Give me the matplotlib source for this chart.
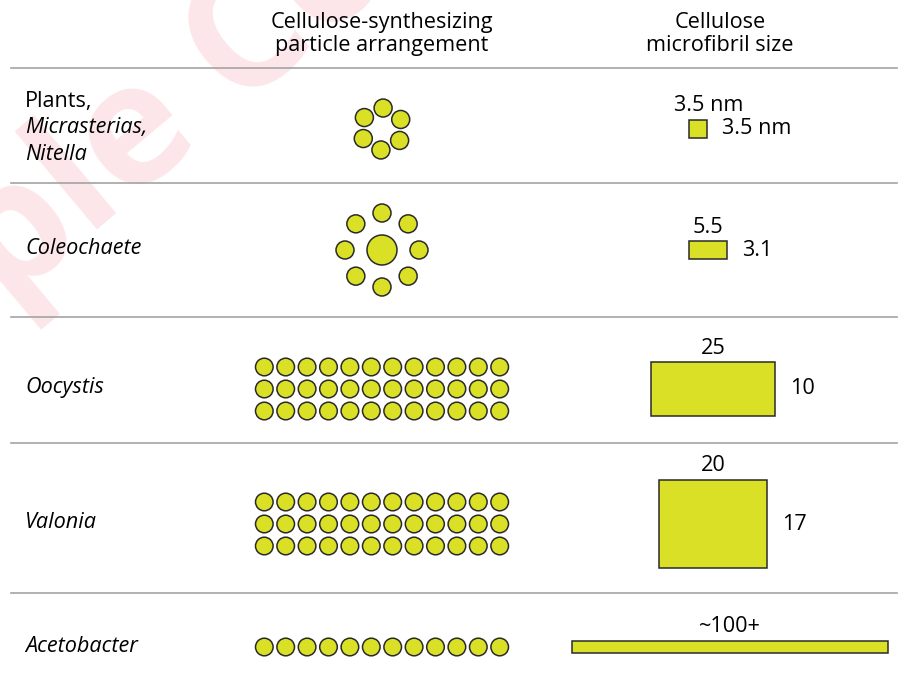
import numpy as np
import matplotlib
matplotlib.use("Agg")
import matplotlib.pyplot as plt
from matplotlib.patches import Circle, Rectangle

# ---- data ----
col_headers = ["Cellulose-synthesizing\nparticle arrangement", "Cellulose\nmicrofibril size"]
row_labels = [["Plants,", "Micrasterias,", "Nitella"], ["Coleochaete"], ["Oocystis"], ["Valonia"], ["Acetobacter"]]
row_italic = [[False, True, True], [True], [True], [True], [True]]

ring_particles = [6, 8, 0, 0, 0]
center_particle = [False, True, False, False, False]
grid_rows = [0, 0, 3, 3, 1]
grid_cols = [0, 0, 12, 12, 12]

width_labels = ["3.5 nm", "5.5", "25", "20", "~100+"]
height_labels = ["3.5 nm", "3.1", "10", "17", ""]
# microfibril sizes as drawn in the figure (nm)
fibril_width = [3.5, 6.9, 23.1, 20.0, 58.5]
fibril_height = [3.5, 3.3, 10.0, 16.3, 2.4]

# ---- layout ----
W, H = 909, 677
row_y = [129, 250, 389, 524, 647]
divider_y = [68, 183, 317, 443, 593]
particle_x = 382
fibril_x = [698, 708, 713, 713, 730]
width_label_dx = [11, 0, 0, 0, 0]
px_per_nm = 5.4
fill = "#dae026"
edge = "#2a2a2a"
font = "Open Sans"
fs = 15.6

fig = plt.figure(figsize=(W / 100, H / 100), dpi=100)
ax = fig.add_axes([0, 0, 1, 1])
ax.set_xlim(0, W)
ax.set_ylim(H, 0)
ax.axis("off")

# watermark
ax.text(-272, 540, "Sample Content", fontsize=122, fontweight="bold", family=font,
        color="#fce6e9", rotation=40, rotation_mode="anchor", ha="left", va="baseline", zorder=0)

for x, head in zip([particle_x, 720], col_headers):
    ax.text(x, 34, head, ha="center", va="center", fontsize=fs, family=font, linespacing=1.1)

for y in divider_y:
    ax.plot([11, 897], [y, y], color="#a3a3a3", lw=1.2, zorder=1)

def particle(x, y, r):
    ax.add_patch(Circle((x, y), r, facecolor=fill, edgecolor=edge, lw=1.1, zorder=3))

for i, y in enumerate(row_y):
    # row label
    lines = row_labels[i]
    n = len(lines)
    for j, (txt, it) in enumerate(zip(lines, row_italic[i])):
        ly = y + (j - (n - 1) / 2) * 26 - 1
        ax.text(25, ly, txt, ha="left", va="center", fontsize=fs, family=font,
                style="italic" if it else "normal")

    # particle arrangement
    if ring_particles[i]:
        k = ring_particles[i]
        rr = 21 if k == 6 else 37
        ang = np.deg2rad(-90 + np.arange(k) * 360 / k + (3 if k == 6 else 0))
        for a in ang:
            particle(particle_x + rr * np.cos(a), y + rr * np.sin(a), 9)
        if center_particle[i]:
            particle(particle_x, y, 15)
    if grid_rows[i]:
        nr, nc = grid_rows[i], grid_cols[i]
        for r in range(nr):
            for c in range(nc):
                particle(particle_x + (c - (nc - 1) / 2) * 21.4,
                         y + (r - (nr - 1) / 2) * 22, 8.8)

    # microfibril cross-section
    w = fibril_width[i] * px_per_nm
    h = fibril_height[i] * px_per_nm
    cx = fibril_x[i]
    ax.add_patch(Rectangle((cx - w / 2, y - h / 2), w, h, facecolor=fill,
                           edgecolor=edge, lw=1.1, zorder=3))
    ax.text(cx + width_label_dx[i], y - h / 2 - 14, width_labels[i], ha="center", va="center",
            fontsize=fs, family=font)
    if height_labels[i]:
        ax.text(cx + w / 2 + 15, y, height_labels[i], ha="left", va="center",
                fontsize=fs, family=font)

fig.savefig("out.png", dpi=100)
